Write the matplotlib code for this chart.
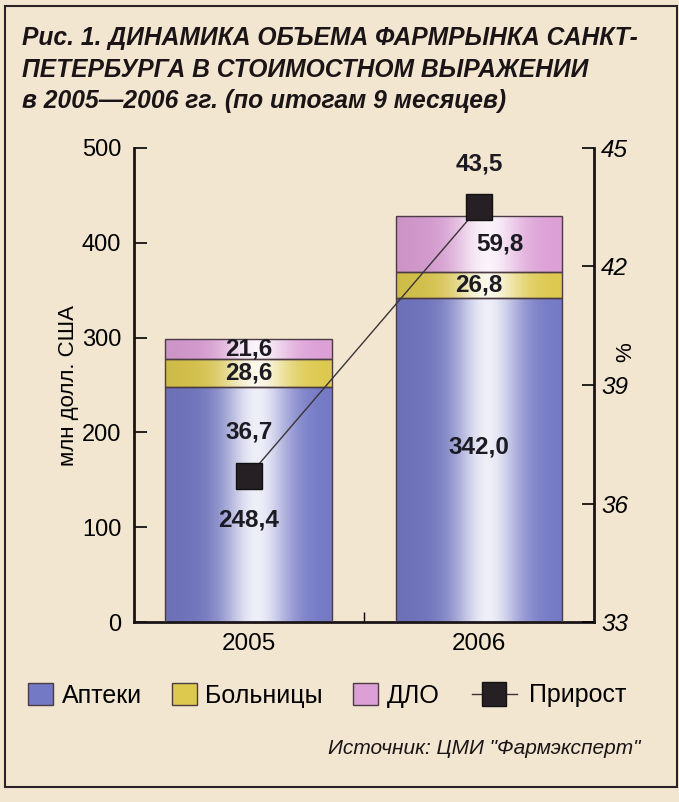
import numpy as np
import matplotlib
matplotlib.use('Agg')
import matplotlib.pyplot as plt
from matplotlib.patches import Patch, Rectangle
from matplotlib.lines import Line2D

plt.rcParams['font.family'] = ['Liberation Sans', 'DejaVu Sans']

years = ['2005', '2006']
apteki = [248.4, 342.0]
bolnitsy = [28.6, 26.8]
dlo = [21.6, 59.8]
prirost = [36.7, 43.5]

BG = '#f3e6d0'
C_BLUE = '#7479c5'
C_YEL = '#ddc94e'
C_PINK = '#dc9fd6'
EDGE = '#4a3c42'


def shade_bar(ax, patch, color):
    # horizontal gradient with a light highlight a bit right of centre
    x0, y0 = patch.get_x(), patch.get_y()
    w, h = patch.get_width(), patch.get_height()
    t = np.linspace(0, 1, 200)
    k = 0.88 * np.exp(-((t - 0.55) / 0.2) ** 2)
    base = np.array(matplotlib.colors.to_rgb(color))
    dark = base * 0.93
    left = np.clip(1 - t * 1.5, 0, 1)[:, None]
    col = base * (1 - left) + dark * left
    col = col * (1 - k[:, None]) + np.ones(3) * k[:, None]
    img = col[None, :, :]
    im = ax.imshow(img, extent=(x0, x0 + w, y0, y0 + h), aspect='auto',
                   interpolation='bilinear', zorder=2)
    im.set_clip_path(patch)


def fmt(v):
    return f'{v:.1f}'.replace('.', ',')


fig = plt.figure(figsize=(6.79, 8.02), dpi=100, facecolor=BG)
ax = fig.add_axes([0.197, 0.2244, 0.678, 0.5911])
ax.set_facecolor(BG)

x = np.arange(len(years))
bw = 0.725
bottoms2 = np.array(apteki)
bottoms3 = bottoms2 + np.array(bolnitsy)
for vals, bot, c in [(apteki, None, C_BLUE), (bolnitsy, bottoms2, C_YEL), (dlo, bottoms3, C_PINK)]:
    bars = ax.bar(x, vals, bw, bottom=bot, color=c, edgecolor=EDGE, linewidth=1.0, zorder=3)
    for b in bars:
        b.set_facecolor('none')
        shade_bar(ax, b, c)

ax.set_xlim(-0.5, 1.5)
ax.set_ylim(0, 500)
ax.set_yticks(range(0, 501, 100))
ax.set_xticks(x)
ax.set_xticklabels(years)
ax.set_xticks([0.5], minor=True)
ax.tick_params(axis='x', which='major', length=0, pad=8, labelsize=17.5)
ax.tick_params(axis='x', which='minor', direction='in', length=7, width=1)
ax.tick_params(axis='y', direction='in', length=9, width=1.2, pad=9, labelsize=17)
ax.spines['top'].set_visible(False)
for s in ['left', 'bottom', 'right']:
    ax.spines[s].set_linewidth(2)
    ax.spines[s].set_color('#1a1416')
ax.set_ylabel('млн долл. США', fontsize=16)
ax.yaxis.set_label_coords(-0.12, 0.5)

# segment labels
lab_kw = dict(ha='center', va='center', fontsize=17.5, fontweight='bold', color='#1c1a22', zorder=6)
ax.text(x[0], 108, fmt(apteki[0]), **lab_kw)
ax.text(x[1], 185, fmt(apteki[1]), **lab_kw)
for i in range(2):
    ax.text(x[i], bottoms2[i] + bolnitsy[i] / 2, fmt(bolnitsy[i]), **lab_kw)
ax.text(x[0], bottoms3[0] + dlo[0] / 2, fmt(dlo[0]), **lab_kw)
ax.text(x[1] + 0.09, bottoms3[1] + dlo[1] / 2, fmt(dlo[1]), **lab_kw)

ax2 = ax.twinx()
ax2.set_ylim(33, 45)
ax2.set_yticks(range(33, 46, 3))
ax2.tick_params(axis='y', direction='in', length=9, width=1.2, pad=5, labelsize=17.5)
for lbl in ax2.get_yticklabels():
    lbl.set_fontstyle('italic')
for s in ['top', 'left', 'bottom', 'right']:
    ax2.spines[s].set_visible(False)
ax2.plot(x, prirost, color='#3a3438', lw=1, zorder=4)
ax2.plot(x, prirost, 's', color='#262024', ms=19, mec='#111', zorder=5)
for xi, v in zip(x, prirost):
    ax2.text(xi, v + 1.1, fmt(v), **lab_kw)
ax2.set_ylabel('%', fontsize=16, rotation=90)
ax2.yaxis.set_label_coords(1.045, 0.57)

# title
title_kw = dict(fontsize=17.7, fontweight='bold', fontstyle='italic', color='#1a1416',
                family=['Liberation Sans Narrow', 'Liberation Sans', 'DejaVu Sans'])
fig.text(0.033, 0.953, 'Рис. 1. ДИНАМИКА ОБЪЕМА ФАРМРЫНКА САНКТ-', va='center', **title_kw)
fig.text(0.033, 0.913, 'ПЕТЕРБУРГА В СТОИМОСТНОМ ВЫРАЖЕНИИ', va='center', **title_kw)
fig.text(0.033, 0.874, 'в 2005—2006 гг. (по итогам 9 месяцев)', va='center', **title_kw)

# legend: bars, then the line entry with a longer handle
patch_handles = [Patch(facecolor=C_BLUE, edgecolor=EDGE), Patch(facecolor=C_YEL, edgecolor=EDGE),
                 Patch(facecolor=C_PINK, edgecolor=EDGE)]
fig.legend(patch_handles, ['Аптеки', 'Больницы', 'ДЛО'], ncol=3, frameon=False,
           loc='center left', bbox_to_anchor=(0.041, 0.133), fontsize=18, borderpad=0,
           borderaxespad=0, handlelength=1.0, handleheight=1.0, handletextpad=0.35,
           columnspacing=1.2)
line_handle = Line2D([], [], color='#3a3438', lw=1, marker='s', ms=17, mfc='#262024', mec='#111')
fig.legend([line_handle], ['Прирост'], frameon=False, loc='center left',
           bbox_to_anchor=(0.695, 0.133), fontsize=18, borderpad=0, borderaxespad=0,
           handlelength=1.8, handletextpad=0.5)

fig.text(0.943, 0.067, 'Источник: ЦМИ "Фармэксперт"', ha='right', va='center',
         fontsize=15, fontstyle='italic', color='#1a1416')

# outer frame
fig.add_artist(Rectangle((0.007, 0.019), 0.99, 0.974, transform=fig.transFigure,
                         fill=False, edgecolor='#2a2226', lw=1.5))

fig.savefig('out.png', dpi=100, facecolor=BG)
